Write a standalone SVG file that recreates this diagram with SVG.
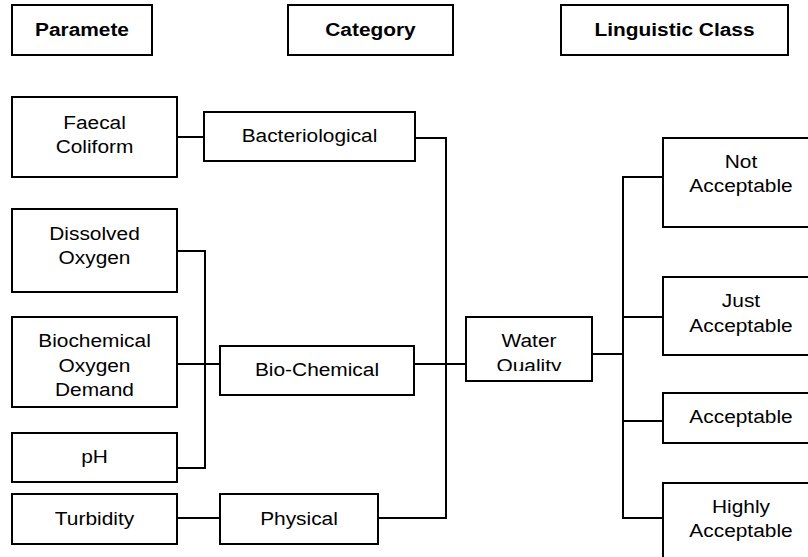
<svg xmlns="http://www.w3.org/2000/svg" width="808" height="557" viewBox="0 0 808 557">
<style>
rect{fill:#fff;stroke:#000;stroke-width:2}
text{font-family:"Liberation Sans",Arial,sans-serif;font-size:18px;fill:#000;text-anchor:middle}
.h{font-weight:bold}
#connectors path{fill:none;stroke:#000;stroke-width:2}
</style>
<defs>
<clipPath id="wqclip"><rect x="466" y="317" width="126" height="54"/></clipPath>
</defs>
<rect x="0" y="0" width="808" height="557" style="stroke:none;fill:#fff"/>
<g id="connectors">
<path d="M177 137H204"/>
<path d="M415 138H446V518H378"/>
<path d="M414 364H466"/>
<path d="M177 251H205V468H177"/>
<path d="M177 364H220"/>
<path d="M177 518H220"/>
<path d="M592 354H623"/>
<path d="M663 177H623V518H663"/>
<path d="M623 317H663"/>
<path d="M623 421H663"/>
</g>
<g id="hdr-param"><rect x="12" y="5" width="140" height="50"/><text class="h" transform="translate(82,36) scale(1.16,1)">Paramete</text></g>
<g id="hdr-category"><rect x="288" y="5" width="165" height="50"/><text class="h" transform="translate(370.5,36) scale(1.16,1)">Category</text></g>
<g id="hdr-ling"><rect x="561" y="5" width="227" height="50"/><text class="h" transform="translate(674.5,36) scale(1.16,1)">Linguistic Class</text></g>
<g id="faecal"><rect x="12" y="97" width="165" height="80"/><text transform="translate(94.5,129) scale(1.16,1)">Faecal</text><text transform="translate(94.5,153) scale(1.16,1)">Coliform</text></g>
<g id="bacterio"><rect x="204" y="112" width="211" height="49"/><text transform="translate(309.5,142) scale(1.16,1)">Bacteriological</text></g>
<g id="dissolved"><rect x="12" y="209" width="165" height="83"/><text transform="translate(94.5,240) scale(1.16,1)">Dissolved</text><text transform="translate(94.5,264) scale(1.16,1)">Oxygen</text></g>
<g id="bod"><rect x="12" y="317" width="165" height="90"/><text transform="translate(94.5,347) scale(1.16,1)">Biochemical</text><text transform="translate(94.5,371.5) scale(1.16,1)">Oxygen</text><text transform="translate(94.5,396) scale(1.16,1)">Demand</text></g>
<g id="biochem"><rect x="220" y="346" width="194" height="49"/><text transform="translate(317,376) scale(1.16,1)">Bio-Chemical</text></g>
<g id="ph"><rect x="12" y="433" width="165" height="49"/><text transform="translate(94.5,463) scale(1.16,1)">pH</text></g>
<g id="turbidity"><rect x="12" y="494" width="165" height="50"/><text transform="translate(94.5,525) scale(1.16,1)">Turbidity</text></g>
<g id="physical"><rect x="220" y="494" width="158" height="50"/><text transform="translate(299,525) scale(1.16,1)">Physical</text></g>
<g id="water"><rect x="466" y="317" width="126" height="64"/><g clip-path="url(#wqclip)"><text transform="translate(529,347) scale(1.16,1)">Water</text><text transform="translate(529,372) scale(1.16,1)">Quality</text></g></g>
<g id="notacc"><rect x="663" y="138" width="156" height="89"/><text transform="translate(741,168) scale(1.16,1)">Not</text><text transform="translate(741,192) scale(1.16,1)">Acceptable</text></g>
<g id="justacc"><rect x="663" y="277" width="156" height="78"/><text transform="translate(741,307) scale(1.16,1)">Just</text><text transform="translate(741,332) scale(1.16,1)">Acceptable</text></g>
<g id="acc"><rect x="663" y="393" width="156" height="50"/><text transform="translate(741,423) scale(1.16,1)">Acceptable</text></g>
<g id="highly"><rect x="663" y="483" width="156" height="90"/><text transform="translate(741,513) scale(1.16,1)">Highly</text><text transform="translate(741,537) scale(1.16,1)">Acceptable</text></g>
</svg>
